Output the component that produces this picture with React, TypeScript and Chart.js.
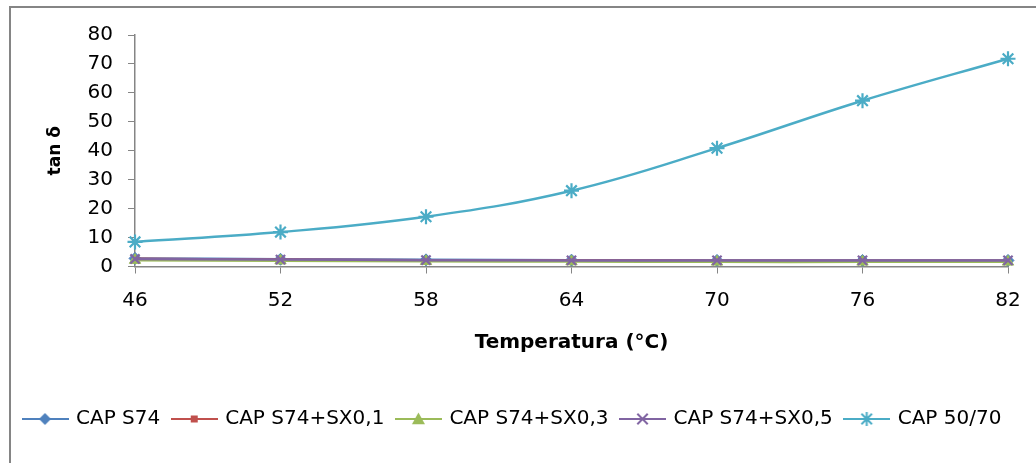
import React, { useEffect, useRef } from "react";
import { Chart, registerables } from "chart.js";

Chart.register(...registerables);

const temperatures = ["46", "52", "58", "64", "70", "76", "82"];

const capS74 = [2.8, 2.5, 2.3, 2.2, 2.1, 2.1, 2.1];
const capS74Sx01 = [2.7, 2.4, 2.2, 2.1, 2.0, 2.0, 2.0];
const capS74Sx03 = [2.2, 2.0, 1.8, 1.7, 1.6, 1.6, 1.6];
const capS74Sx05 = [2.6, 2.4, 2.2, 2.1, 2.1, 2.1, 2.1];
const cap5070 = [8.5, 11.9, 17.2, 26.2, 40.9, 57.3, 71.8];

const seriesNames = [
  "CAP S74",
  "CAP S74+SX0,1",
  "CAP S74+SX0,3",
  "CAP S74+SX0,5",
  "CAP 50/70",
];

const FONT = "'DejaVu Sans', sans-serif";
const AXIS_GREY = "#858585";

type Marker = "rectRot" | "rect" | "triangle" | "crossRot" | "star";

// Draws a marker shape centred on (x, y) with the given radius.
function drawMarker(
  ctx: CanvasRenderingContext2D,
  style: Marker,
  x: number,
  y: number,
  r: number,
  color: string
) {
  ctx.save();
  ctx.fillStyle = color;
  ctx.strokeStyle = color;
  ctx.lineWidth = 2;
  ctx.beginPath();
  if (style === "rectRot") {
    ctx.moveTo(x, y - r);
    ctx.lineTo(x + r, y);
    ctx.lineTo(x, y + r);
    ctx.lineTo(x - r, y);
    ctx.closePath();
    ctx.fill();
  } else if (style === "rect") {
    ctx.rect(x - r, y - r, 2 * r, 2 * r);
    ctx.fill();
  } else if (style === "triangle") {
    ctx.moveTo(x, y - r);
    ctx.lineTo(x + r, y + r * 0.8);
    ctx.lineTo(x - r, y + r * 0.8);
    ctx.closePath();
    ctx.fill();
  } else if (style === "crossRot") {
    const d = r * 0.8;
    ctx.moveTo(x - d, y - d);
    ctx.lineTo(x + d, y + d);
    ctx.moveTo(x + d, y - d);
    ctx.lineTo(x - d, y + d);
    ctx.stroke();
  } else {
    const d = r * 0.75;
    ctx.moveTo(x, y - r);
    ctx.lineTo(x, y + r);
    ctx.moveTo(x - d, y - d);
    ctx.lineTo(x + d, y + d);
    ctx.moveTo(x + d, y - d);
    ctx.lineTo(x - d, y + d);
    ctx.stroke();
  }
  ctx.restore();
}

// Legend symbol: a short line with the series marker in the middle.
function legendSymbol(color: string, style: Marker, r: number): HTMLCanvasElement {
  const c = document.createElement("canvas");
  c.width = 47;
  c.height = 18;
  const ctx = c.getContext("2d")!;
  ctx.strokeStyle = color;
  ctx.lineWidth = 2;
  ctx.beginPath();
  ctx.moveTo(0, 9);
  ctx.lineTo(47, 9);
  ctx.stroke();
  drawMarker(ctx, style, 23.5, 9, r, color);
  return c;
}

export default function App() {
  const canvasRef = useRef<HTMLCanvasElement | null>(null);

  useEffect(() => {
    if (!canvasRef.current) return;

    const specs: { data: number[]; color: string; marker: Marker; radius: number; legendR: number }[] = [
      { data: capS74, color: "#4F81BD", marker: "rectRot", radius: 6, legendR: 6 },
      { data: capS74Sx01, color: "#C0504D", marker: "rect", radius: 3.5, legendR: 3.5 },
      { data: capS74Sx03, color: "#9BBB59", marker: "triangle", radius: 6.5, legendR: 6.5 },
      { data: capS74Sx05, color: "#8064A2", marker: "crossRot", radius: 6.5, legendR: 6.5 },
      { data: cap5070, color: "#4BACC6", marker: "star", radius: 7.5, legendR: 7 },
    ];

    const chart = new Chart(canvasRef.current, {
      type: "line",
      data: {
        labels: temperatures,
        datasets: specs.map((s, i) => ({
          label: seriesNames[i],
          data: s.data,
          yAxisID: "y",
          borderColor: s.color,
          backgroundColor: s.color,
          borderWidth: 2.5,
          pointStyle: s.marker,
          pointRadius: s.radius,
          pointBorderWidth: s.marker === "crossRot" || s.marker === "star" ? 2.2 : 1,
          pointBorderColor: s.color,
          pointBackgroundColor: s.color,
          tension: 0.4,
          order: specs.length - i,
        })),
      },
      options: {
        animation: false,
        responsive: false,
        layout: { padding: { left: 0, top: 25, right: 0, bottom: 24 } },
        plugins: {
          tooltip: { enabled: false },
          legend: {
            position: "bottom",
            align: "start",
            labels: {
              usePointStyle: true,
              pointStyleWidth: 42,
              padding: 13,
              color: "#000",
              font: { family: FONT, size: 20 },
              generateLabels: () =>
                specs.map((s, i) => ({
                  text: seriesNames[i],
                  pointStyle: legendSymbol(s.color, s.marker, s.legendR),
                  fillStyle: s.color,
                  strokeStyle: s.color,
                  lineWidth: 0,
                  hidden: false,
                  datasetIndex: i,
                  fontColor: "#000",
                })),
            },
          },
        },
        scales: {
          x: {
            type: "category",
            offset: false,
            grid: {
              drawOnChartArea: false,
              drawTicks: true,
              tickLength: 7,
              color: AXIS_GREY,
            },
            border: { display: true, color: AXIS_GREY, width: 1.5 },
            ticks: {
              color: "#000",
              font: { family: FONT, size: 20 },
              padding: 15,
              maxRotation: 0,
              autoSkip: false,
            },
            title: {
              display: true,
              text: "Temperatura (°C)",
              color: "#000",
              font: { family: FONT, size: 20, weight: "bold" },
              padding: { top: 0, bottom: 41 },
            },
            afterFit: (scale: any) => {
              scale.height = 129.5;
            },
          },
          y: {
            min: 0,
            max: 80,
            grid: {
              drawOnChartArea: false,
              drawTicks: true,
              tickLength: 7,
              color: AXIS_GREY,
            },
            border: { display: true, color: AXIS_GREY, width: 1.5 },
            ticks: {
              stepSize: 10,
              autoSkip: false,
              color: "#000",
              font: { family: FONT, size: 20 },
              padding: 15,
            },
            title: {
              display: true,
              text: "tan δ",
              color: "#000",
              font: { family: FONT, size: 17, weight: "bold" },
              padding: { top: 34, bottom: 0 },
            },
            afterFit: (scale: any) => {
              scale.width = 124;
            },
          },
          // empty margin on the right of the plot, kept out of the legend's width
          rightMargin: {
            type: "linear",
            position: "right",
            display: true,
            grid: { display: false, drawTicks: false },
            border: { display: false },
            ticks: { display: false },
            afterFit: (scale: any) => {
              scale.width = 28;
            },
          },
        },
      },
    });

    return () => chart.destroy();
  }, []);

  return (
    <div
      style={{
        position: "absolute",
        left: 9,
        top: 6,
        width: 1027,
        height: 457,
        borderLeft: `2px solid ${AXIS_GREY}`,
        borderTop: `2px solid ${AXIS_GREY}`,
        background: "#fff",
        boxSizing: "border-box",
      }}
    >
      <canvas ref={canvasRef} width={1025} height={455} style={{ display: "block" }} />
    </div>
  );
}
